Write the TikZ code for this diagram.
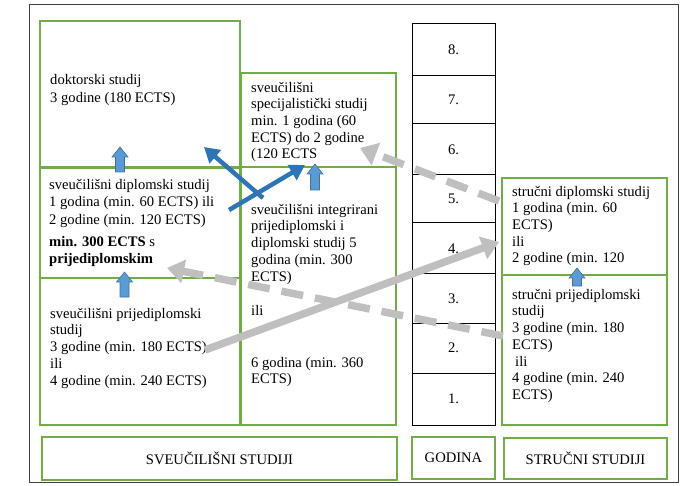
\documentclass[tikz,border=0pt]{standalone}
\usepackage{fontspec}
\setmainfont{Liberation Serif}
\usetikzlibrary{arrows.meta}
\definecolor{grn}{HTML}{70AD47}
\definecolor{bfill}{HTML}{5B9BD5}
\definecolor{bdraw}{HTML}{41719C}
\definecolor{bline}{HTML}{2E75B6}
\definecolor{gline}{HTML}{BFBFBF}
\newcommand\myst{\rule{0pt}{10.5pt}}
\begin{document}
\begin{tikzpicture}[x=1pt,y=-1pt,
  gbox/.style={draw=grn, line width=1.2pt, inner sep=0pt, outer sep=0pt, anchor=north west},
  ybox/.style={draw=black, line width=1pt, inner sep=0pt, outer sep=0pt, anchor=north west,
    minimum width=83pt, font=\fontsize{14.6}{16.7}\selectfont},
  lbl/.style={draw=grn, line width=1.2pt, inner sep=0pt, outer sep=0pt, anchor=north west,
    font=\fontsize{14.6}{16.7}\selectfont},
  txt/.style={anchor=north west, inner sep=0pt, align=left, font=\fontsize{14.6}{16.7}\selectfont},
  bluearr/.style={draw=bline, line width=4.5pt, -{Triangle[length=15pt,width=17pt]}},
  grayarr/.style={draw=gline, line width=7.5pt, -{Triangle[length=17pt,width=23pt]}},
  graydash/.style={grayarr, dash pattern=on 22pt off 12pt},
  pics/uparrow/.style={code={
    \filldraw[fill=bfill, draw=bdraw, line width=0.6pt]
      (-4.5,0) -- ++(0,-#1+10) -- ++(-3.5,0) -- (0,-#1) -- (8,-#1+10) -- ++(-3.5,0) -- (4.5,0) -- cycle;}}
]
\useasboundingbox (0,0) rectangle (685,486);
% outer frame
\draw[draw=black!75, line width=1pt] (29,5) rectangle (678,482);

% university boxes
\node[gbox, minimum width=200pt, minimum height=146pt] (dok) at (40,21) {};
\node[gbox, minimum width=200pt, minimum height=110pt] (dipl) at (40,168) {};
\node[gbox, minimum width=200pt, minimum height=147pt] (prij) at (40,278) {};
\node[gbox, minimum width=155pt, minimum height=94pt] (spec) at (241,73) {};
\node[gbox, minimum width=155pt, minimum height=258pt] (integ) at (241,167) {};

% professional boxes
\node[gbox, minimum width=165pt, minimum height=97pt] (sdipl) at (502,178) {};
\node[gbox, minimum width=165pt, minimum height=150pt] (sprij) at (502,275) {};

% years column
\node[ybox, minimum height=52pt] (y8) at (412,24) {8.};
\node[ybox, minimum height=48pt] (y7) at (412,76) {7.};
\node[ybox, minimum height=51pt] (y6) at (412,124) {6.};
\node[ybox, minimum height=48pt] (y5) at (412,175) {5.};
\node[ybox, minimum height=51pt] (y4) at (412,223) {4.};
\node[ybox, minimum height=49pt] (y3) at (412,274) {3.};
\node[ybox, minimum height=50pt] (y2) at (412,323) {2.};
\node[ybox, minimum height=52pt] (y1) at (412,373) {1.};

% bottom labels
\node[lbl, minimum width=355pt, minimum height=43pt] (lsv) at (42,437) {SVEUČILIŠNI STUDIJI};
\node[lbl, minimum width=83pt, minimum height=42pt] (lgod) at (412,437) {GODINA};
\node[lbl, minimum width=163pt, minimum height=41pt] (lstr) at (504,438) {STRUČNI STUDIJI};

% texts
\node[txt] (tdok) at (50,73.5) {\myst doktorski studij\\[1.3pt]3 godine (180 ECTS)};
\node[txt] (tspec) at (251,81.5) {\myst sveučilišni\\specijalistički studij\\min. 1 godina (60\\ECTS) do 2 godine\\(120 ECTS};
\node[txt] (tdipl) at (49,178.5) {\myst sveučilišni diplomski studij\\[0.8pt]1 godina (min. 60 ECTS) ili\\[0.8pt]2 godine (min. 120 ECTS)\\[6pt]\textbf{min. 300 ECTS} s\\\textbf{prijediplomskim}};
\node[txt] (tinteg) at (251,203.5) {\myst sveučilišni integrirani\\prijediplomski i\\diplomski studij 5\\godina (min. 300\\ECTS)\\[17.3pt]ili\\[35.3pt]6 godina (min. 360\\ECTS)};
\node[txt] (tprij) at (50,307.5) {\myst sveučilišni prijediplomski\\studij\\3 godine (min. 180 ECTS)\\ili\\4 godine (min. 240 ECTS)};
\node[txt] (tsdipl) at (512,185.5) {\myst stručni diplomski studij\\1 godina (min. 60\\ECTS)\\ili\\2 godine (min. 120};
\node[txt] (tsprij) at (512,288.5) {\myst stručni prijediplomski\\studij\\3 godine (min. 180\\ECTS)\\\hspace{3pt}ili\\4 godine (min. 240\\ECTS)};

% block arrows
\pic at (120,172) {uparrow=25};
\pic at (124.5,297) {uparrow=25};
\pic at (315,190) {uparrow=26};
\pic at (577,286) {uparrow=18};

% connector end points
\coordinate (b1s) at (263,198);
\coordinate (b1e) at (204,147);
\coordinate (b2s) at (229,210);
\coordinate (b2e) at (305,165);
\coordinate (gas) at (499,201);
\coordinate (gae) at (360,148);
\coordinate (gbs) at (503,336);
\coordinate (gbe) at (167,268);
\coordinate (gcs) at (205,350);
\coordinate (gce) at (499,242);

% gray connectors
\draw[graydash] (gas) -- (gae);
\draw[graydash] (gbs) -- (gbe);
\draw[grayarr] (gcs) -- (gce);
% blue connectors
\draw[bluearr] (b1s) -- (b1e);
\draw[bluearr] (b2s) -- (b2e);
\end{tikzpicture}
\end{document}
